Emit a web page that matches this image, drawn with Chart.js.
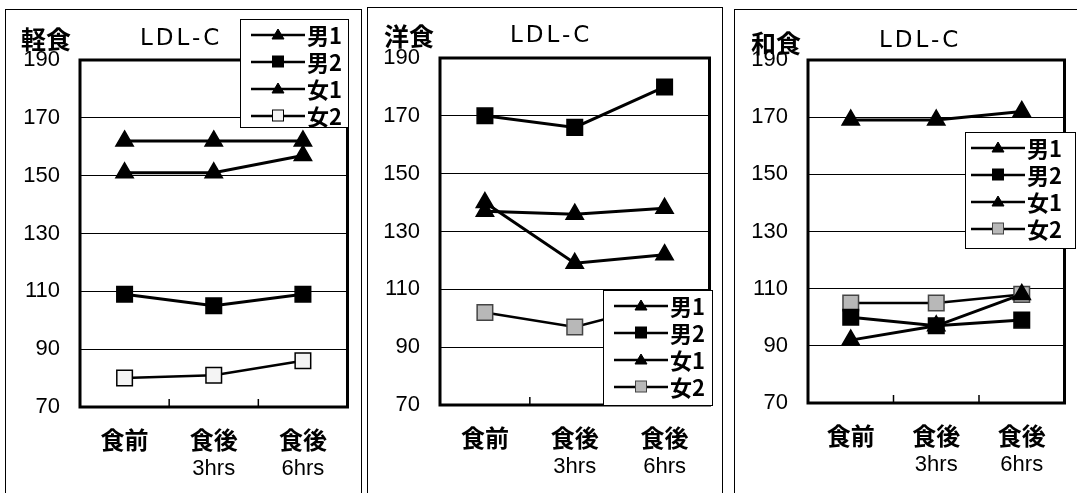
<!DOCTYPE html>
<html>
<head>
<meta charset="utf-8">
<script src="https://cdn.jsdelivr.net/npm/chart.js@4"></script>
<style>
	body { margin: 0; background: #fff; width: 1077px; height: 493px; overflow: hidden; position: relative; }
	.frame { position: absolute; border: 1.5px solid #000; box-sizing: border-box; }
	canvas { position: absolute; top: 0; }
	.meal { position: absolute; font: bold 25px/25px 'Noto Sans CJK JP'; }
	.ttl { position: absolute; font: 23px/23px 'DejaVu Sans'; letter-spacing: 3px; }
	.legend { position: absolute; background: #fff; border: 1.5px solid #000; box-sizing: border-box; padding-top: 1px; }
	.legend div { height: 27px; display: flex; align-items: center; }
	.legend span { font: bold 22px/27px 'Noto Sans CJK JP'; }
</style>
</head>
<body>
<div class="frame" style="left:5px;top:9px;width:357px;height:500px"></div>
<div class="frame" style="left:367px;top:7px;width:356px;height:500px"></div>
<div class="frame" style="left:734px;top:9px;width:360px;height:500px"></div>

<canvas id="c1" width="360" height="493" style="left:0"></canvas>
<canvas id="c2" width="362" height="493" style="left:360px"></canvas>
<canvas id="c3" width="355" height="493" style="left:722px"></canvas>

<div class="meal" style="left:21px;top:26px">軽食</div>
<div class="ttl" style="left:140px;top:26px">LDL-C</div>
<div class="meal" style="left:384px;top:23px">洋食</div>
<div class="ttl" style="left:510px;top:23px">LDL-C</div>
<div class="meal" style="left:751px;top:30px">和食</div>
<div class="ttl" style="left:879px;top:28px">LDL-C</div>

<div class="legend" id="lg1" style="left:240px;top:19px;width:109px;height:109px"></div>
<div class="legend" id="lg2" style="left:603px;top:290px;width:110px;height:116px"></div>
<div class="legend" id="lg3" style="left:965px;top:132px;width:111px;height:117px"></div>

<script>
const categories = [['食前'], ['食後', '3hrs'], ['食後', '6hrs']];
const seriesNames = ['男1', '男2', '女1', '女2'];
const yTicks = [70, 90, 110, 130, 150, 170, 190];

// 軽食
const lightM1 = [162, 162, 162];
const lightM2 = [109, 105, 109];
const lightF1 = [151, 151, 157];
const lightF2 = [80, 81, 86];
// 洋食
const westM1 = [137, 136, 138];
const westM2 = [170, 166, 180];
const westF1 = [140, 119, 122];
const westF2 = [102, 97, 105];
// 和食
const japM1 = [169, 169, 172];
const japM2 = [100, 97, 99];
const japF1 = [92, 97, 108];
const japF2 = [105, 105, 108];

const markers = ['triangle', 'rect', 'triangle', 'rect'];

const framePlugin = {
	id: 'frame',
	afterDraw(chart) {
		const {ctx, chartArea: a, scales: {x}} = chart;
		ctx.save();
		ctx.strokeStyle = '#000';
		ctx.lineWidth = 3;
		ctx.strokeRect(a.left, a.top, a.right - a.left, a.bottom - a.top);
		ctx.lineWidth = 1.5;
		for (let i = 1; i < categories.length; i++) {
			const px = (x.getPixelForValue(i - 1) + x.getPixelForValue(i)) / 2;
			ctx.beginPath();
			ctx.moveTo(px, a.bottom);
			ctx.lineTo(px, a.bottom - 8);
			ctx.stroke();
		}
		ctx.fillStyle = '#000';
		ctx.textAlign = 'center';
		ctx.textBaseline = 'middle';
		categories.forEach((lines, i) => {
			const px = x.getPixelForValue(i);
			ctx.font = 'bold 24px "Noto Sans CJK JP"';
			ctx.fillText(lines[0], px, a.bottom + 33);
			if (lines[1]) {
				ctx.font = '22px "Liberation Sans"';
				ctx.fillText(lines[1], px, a.bottom + 62);
			}
		});
		ctx.restore();
	}
};

const makeChart = (id, series, f2fill, f2border, box) => {
	const datasets = series.map((data, i) => ({
		label: seriesNames[i],
		data,
		borderColor: '#000',
		borderWidth: i === 3 ? 2.5 : 3,
		pointStyle: markers[i],
		pointRadius: markers[i] === 'triangle' ? 10 : 11,
		pointBackgroundColor: i === 3 ? f2fill : '#000',
		pointBorderColor: i === 3 ? f2border : '#000',
		pointBorderWidth: 1.5,
		tension: 0,
		clip: false
	}));
	return new Chart(document.getElementById(id), {
		type: 'line',
		data: {labels: categories.map(c => c.join(' ')), datasets},
		plugins: [framePlugin],
		options: {
			responsive: false,
			devicePixelRatio: 1,
			animation: false,
			layout: {padding: {top: box.top, right: box.right, left: 0, bottom: 0}},
			plugins: {legend: {display: false}, tooltip: {enabled: false}},
			scales: {
				x: {
					offset: true,
					grid: {display: false},
					border: {display: false},
					ticks: {display: false},
					afterFit: s => { s.height = box.xh; }
				},
				y: {
					min: 70,
					max: 190,
					afterBuildTicks: s => { s.ticks = yTicks.map(v => ({value: v})); },
					grid: {color: '#000', lineWidth: 1, drawTicks: false},
					border: {display: false},
					ticks: {
						color: '#000',
						padding: 20,
						font: {family: 'Liberation Sans', size: 22}
					},
					afterFit: s => { s.width = box.yw; }
				}
			}
		}
	});
};

const buildLegend = (id, f2fill, f2border, pad) => {
	const el = document.getElementById(id);
	seriesNames.forEach((name, i) => {
		const row = document.createElement('div');
		row.style.paddingLeft = pad + 'px';
		const fill = i === 3 ? f2fill : '#000';
		const stroke = i === 3 ? f2border : '#000';
		const mark = markers[i] === 'triangle'
			? `<polygon points="28,8 34,18 22,18" fill="${fill}" stroke="${stroke}"/>`
			: `<rect x="22.5" y="8" width="11" height="11" fill="${fill}" stroke="${stroke}"/>`;
		row.innerHTML = `<svg width="57" height="27"><line x1="1" y1="14" x2="55" y2="14" stroke="#000" stroke-width="2.5"/>${mark}</svg><span>${name}</span>`;
		el.appendChild(row);
	});
};

makeChart('c1', [lightM1, lightM2, lightF1, lightF2], '#f4f4f4', '#000', {top: 60, right: 10, xh: 86, yw: 80});
makeChart('c2', [westM1, westM2, westF1, westF2], '#b8b8b8', '#444', {top: 58, right: 10, xh: 88, yw: 80});
makeChart('c3', [japM1, japM2, japF1, japF2], '#b8b8b8', '#444', {top: 60, right: 2, xh: 90, yw: 86});

buildLegend('lg1', '#f4f4f4', '#000', 9);
buildLegend('lg2', '#b8b8b8', '#444', 9);
buildLegend('lg3', '#b8b8b8', '#444', 4);
</script>
</body>
</html>
